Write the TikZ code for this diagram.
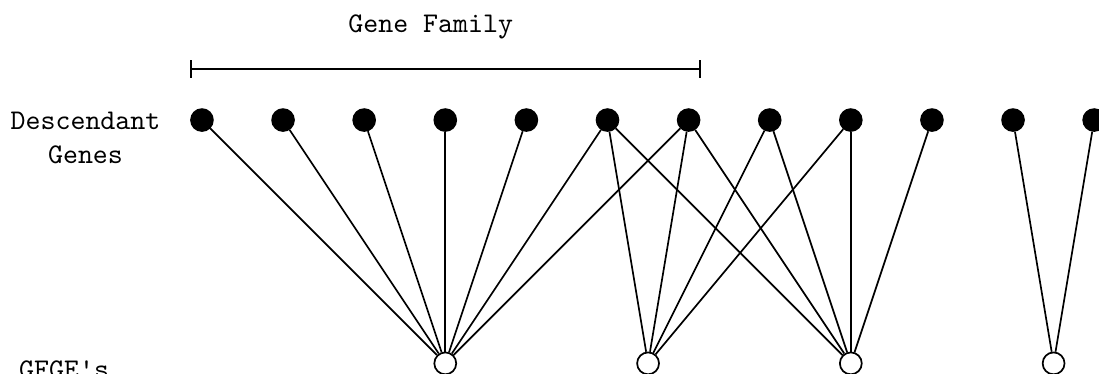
\documentclass[tikz,border=0pt]{standalone}
\usepackage{tikz}
\usetikzlibrary{arrows.meta, positioning}

\tikzset{
    gene/.style={circle, draw, fill=black, minimum size=0.27cm, inner sep=0pt},
    gfge/.style={circle, draw, fill=white, minimum size=0.27cm, inner sep=0pt}
}

\begin{document}
\begin{tikzpicture}[font=\ttfamily, line width=0.6pt]
            \useasboundingbox (-2.49,-3.13) rectangle (11.06,1.48);

            % descendant genes along the top
            \foreach \i in {0,...,11}
                \node (g\i) [gene] at (\i,0) {};

            % GFGE's along the bottom
            \node (f1) [gfge] at (3,-3) {};
            \node (f2) [gfge] at (5.5,-3) {};
            \node (f3) [gfge] at (8,-3) {};
            \node (f4) [gfge] at (10.5,-3) {};

            \node (desc) [left=0.24cm of g0, yshift=-0.22cm, align=center] {Descendant\\ Genes};
            \node (gfge_label) at (-1.7,-3.08) {GFGE\textquotesingle s};

            % family bracket over the first seven genes
                \coordinate (bar_start) at ([xshift=-0.15cm, yshift=0.63cm]g0.center);
                \coordinate (bar_end) at ([xshift=0.15cm, yshift=0.63cm]g6.center);
                \draw[{Bar[width=6pt]}-{Bar[width=6pt]}] (bar_start) -- (bar_end);
                \node (family) at (2.82,1.15) {Gene Family};

            % links
            \foreach \i in {0,...,6}
                \draw (g\i) -- (f1);
            \foreach \i in {5,...,8}
                \draw (g\i) -- (f2);
            \foreach \i in {5,...,9}
                \draw (g\i) -- (f3);
            \foreach \i in {10,11}
                \draw (g\i) -- (f4);
            \end{tikzpicture}
\end{document}
